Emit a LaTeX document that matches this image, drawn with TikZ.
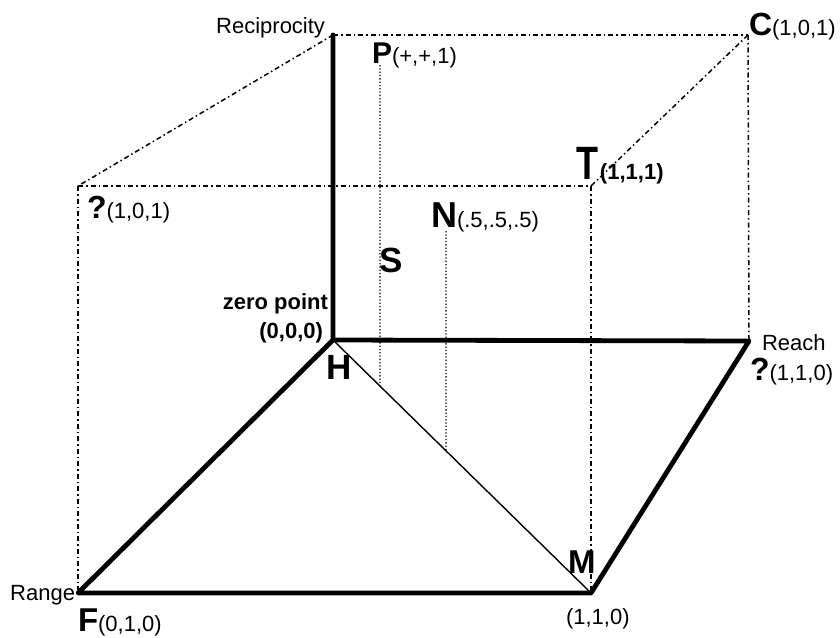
\documentclass[tikz,border=0pt]{standalone}
\usepackage{fontspec}
\setmainfont{Liberation Sans}
\usetikzlibrary{calc}
\newcommand\BigLet[2]{{\fontsize{#1}{#1}\selectfont\bfseries #2}}
\newcommand\SmBold[1]{{\fontsize{22}{24}\selectfont\bfseries #1}}
\begin{document}
\begin{tikzpicture}[x=1pt,y=-1pt,
 thickedge/.style={line width=4.8pt, line cap=round, line join=round},
 thinedge/.style={line width=1.4pt},
 hidden/.style={line width=1.5pt, dash pattern=on 5pt off 3pt on 1.5pt off 3pt},
 guide/.style={line width=1.3pt, dash pattern=on 1.3pt off 2pt},
 lab/.style={inner sep=0pt, outer sep=0pt, font=\fontsize{22}{24}\selectfont},
 blab/.style={lab, font=\fontsize{22}{24}\selectfont\bfseries}]
\path[fill=white, use as bounding box] (0,0) rectangle (840,637);
% corners of the cube
\coordinate (H) at (333,340);
\coordinate (Rc) at (333,35);
\coordinate (C) at (748,35);
\coordinate (Q) at (78,186);
\coordinate (T) at (591,186);
\coordinate (F) at (78,593);
\coordinate (M) at (591,593);
\coordinate (E) at (749,341);
\coordinate (Ptop) at (380,65);
\coordinate (Ntop) at (446,231);
\coordinate (Pbot) at ($(H)!0.1822!(M)$);
\coordinate (Nbot) at ($(H)!0.438!(M)$);
% hidden edges
\draw[hidden] (Rc) -- (C);
\draw[hidden] (Rc) -- (Q);
\draw[hidden] (Q) -- (T);
\draw[hidden] (C) -- (T);
\draw[hidden] (Q) -- (F);
\draw[hidden] (T) -- (M);
\draw[hidden] (C) -- (E);
% guides
\draw[guide] (Ptop) -- (Pbot);
\draw[guide] (Ntop) -- (Nbot);
% solid edges
\draw[thinedge] (H) -- (M);
\draw[thickedge] (Rc) -- (H) -- (F) -- (M) -- (E) -- (H);
% labels
\node[lab, anchor=base east] (recl) at (325,33) {Reciprocity};
\node[lab, anchor=base west] (pl) at (372,63) {\BigLet{30}{P}(+,+,1)};
\node[lab, anchor=base west] (cl) at (749,35) {\BigLet{32}{C}(1,0,1)};
\node[lab, anchor=base west] (tl) at (576,179) {\scalebox{1}[1.3]{\BigLet{36}{T}}\kern2pt\SmBold{(1,1,1)}};
\node[lab, anchor=base west] (ql) at (87,218) {\BigLet{32}{?}(1,0,1)};
\node[lab, anchor=base west] (nl) at (431,227) {\BigLet{36}{N}(.5,.5,.5)};
\node[lab, anchor=base west] (sl) at (379,272) {\BigLet{35}{S}};
\node[blab, anchor=base east] (zl) at (328,309) {zero point};
\node[blab, anchor=base east] (ol) at (323,338) {(0,0,0)};
\node[lab, anchor=base west] (hl) at (326,379) {\BigLet{35}{H}};
\node[lab, anchor=base west] (reachl) at (762,350) {Reach};
\node[lab, anchor=base west] (el) at (750,380) {\BigLet{32}{?}(1,1,0)};
\node[lab, anchor=base west] (ml) at (568,573) {\BigLet{33}{M}};
\node[lab, anchor=base west] (mc) at (566,624) {(1,1,0)};
\node[lab, anchor=base east] (rangel) at (75,600) {Range};
\node[lab, anchor=base west] (fl) at (78,631) {\BigLet{33}{F}(0,1,0)};
\end{tikzpicture}
\end{document}
